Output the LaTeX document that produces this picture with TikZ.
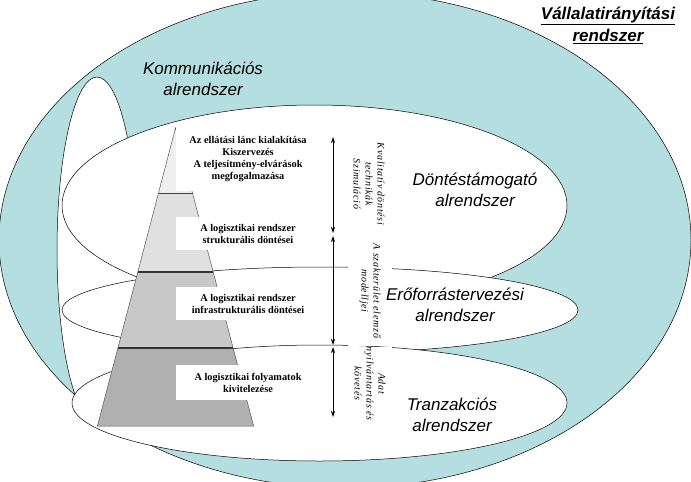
\documentclass[tikz,border=0pt]{standalone}
\usepackage{fontspec}
\setmainfont{Liberation Serif}
\newfontfamily\arialf{Liberation Sans}
\usetikzlibrary{shapes.geometric,arrows.meta}
\definecolor{teal0}{RGB}{180,222,224}
\definecolor{pg1}{RGB}{238,238,238}
\definecolor{pg2}{RGB}{224,224,224}
\definecolor{pg3}{RGB}{200,200,200}
\definecolor{pg4}{RGB}{176,176,176}
\tikzset{
 ell/.style={ellipse, draw=black, line width=0.5pt, inner sep=0pt, outer sep=0pt},
 lab/.style={font=\arialf\itshape\fontsize{17}{21}\selectfont, align=center, inner sep=0pt},
 pbox/.style={fill=white, inner sep=0pt, align=center, minimum width=144pt, font=\bfseries\fontsize{10.3}{12}\selectfont},
 rtext/.style={fill=white, rotate=-90, inner sep=0pt, align=center, minimum height=44pt, font=\itshape\fontsize{10}{12}\selectfont\addfontfeature{LetterSpace=7}},
 psec/.style={draw=black!65, line width=0.5pt},
 pdiv/.style={draw=black!80, line width=1.2pt},
 dbl/.style={{Stealth[length=6pt,width=4pt]}-{Stealth[length=6pt,width=4pt]}, line width=0.8pt},
}
\begin{document}
\begin{tikzpicture}[x=1pt,y=-1pt]
\useasboundingbox (0,0) rectangle (691,482);
\begin{scope}
\clip (0,0) rectangle (691,482);
% ellipses
\node[ell, fill=teal0, minimum width=692pt, minimum height=496pt] (vir) at (345,240) {};
\node[ell, fill=white, minimum width=80pt, minimum height=346pt] (komm) at (97,250) {};
\node[ell, fill=white, minimum width=505pt, minimum height=201pt] (dont) at (314.5,205.5) {};
\node[ell, fill=white, minimum width=516pt, minimum height=86pt] (ero) at (320,310) {};
\node[ell, fill=white, minimum width=495pt, minimum height=116pt] (tranz) at (319.5,403) {};
\end{scope}
% pyramid sections
\fill[pg1] (175.5,128) -- (158.5,193) -- (192.5,193) -- cycle;
\draw[psec] (158.5,193) -- (175.5,128) -- (192.5,193);
\fill[pg2] (158.5,193) -- (137.8,272) -- (213.2,272) -- (192.5,193) -- cycle;
\draw[psec] (158.5,193) -- (137.8,272) (213.2,272) -- (192.5,193);
\fill[pg3] (137.8,272) -- (117.9,348) -- (233.1,348) -- (213.2,272) -- cycle;
\draw[psec] (137.8,272) -- (117.9,348) (233.1,348) -- (213.2,272);
\fill[pg4] (117.9,348) -- (97.4,426) -- (253.6,426) -- (233.1,348) -- cycle;
\draw[psec] (117.9,348) -- (97.4,426) -- (253.6,426) -- (233.1,348);
\draw[draw=black!75, line width=0.8pt] (158.5,193) -- (192.5,193);
\draw[pdiv] (137.8,272) -- (213.2,272);
\draw[pdiv] (117.9,348) -- (233.1,348);
% pyramid text boxes
\node[pbox, minimum height=63pt] (b1) at (248,159.5) {Az ellátási lánc kialakítása\\Kiszervezés\\A teljesítmény-elvárások\\megfogalmazása};
\node[pbox, minimum height=33pt] (b2) at (248,233.5) {A logisztikai rendszer\\strukturális döntései};
\node[pbox, minimum height=33pt] (b3) at (248,303.5) {A logisztikai rendszer\\infrastrukturális döntései};
\node[pbox, minimum height=35pt] (b4) at (248,382.5) {A logisztikai folyamatok\\kivitelezése};
% arrows
\coordinate (a1t) at (333,137);
\coordinate (a1b) at (333,233);
\coordinate (a2t) at (333,236);
\coordinate (a2b) at (333,345);
\coordinate (a3t) at (333,347);
\coordinate (a3b) at (333,417);
\draw[dbl] (a1t) -- (a1b);
\draw[dbl] (a2t) -- (a2b);
\draw[dbl] (a3t) -- (a3b);
% rotated texts
\node[rtext, minimum width=98pt] (r1) at (369,184) {Kvalitatív döntési\\technikák\\Szimuláció};
\node[rtext, minimum width=110pt] (r2) at (370,291) {A szakterület elemző\\modelljei};
\node[rtext, minimum width=73pt] (r3) at (370,383.5) {Adat\\nyilvántartás és\\követés};
% labels
\node[lab, font=\arialf\bfseries\itshape\fontsize{17}{22}\selectfont] (title) at (608,25) {\underline{Vállalatirányítási}\\\underline{rendszer}};
\node[lab] (lkomm) at (203,79) {Kommunikációs\\alrendszer};
\node[lab] (ldont) at (475,190) {Döntéstámogató\\alrendszer};
\node[lab] (lero) at (455,305) {Erőforrástervezési\\alrendszer};
\node[lab] (ltranz) at (452,415) {Tranzakciós\\alrendszer};
\end{tikzpicture}
\end{document}
